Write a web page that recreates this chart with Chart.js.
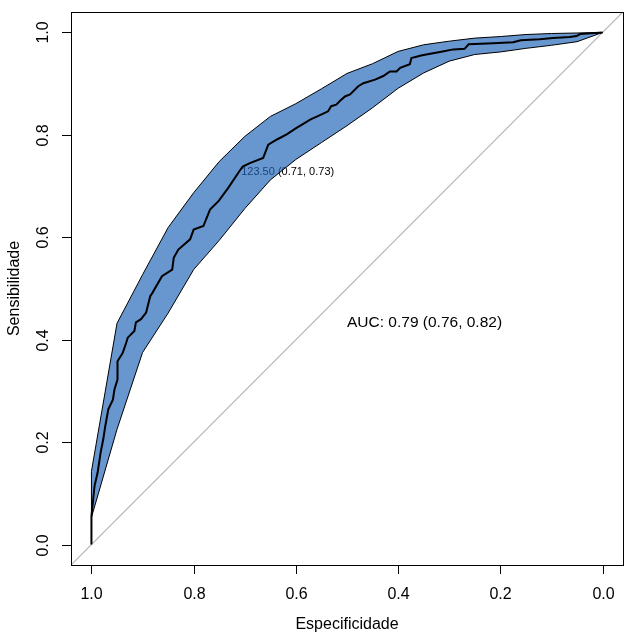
<!DOCTYPE html>
<html>
<head>
<meta charset="utf-8">
<script src="https://cdn.jsdelivr.net/npm/chart.js@4.4.1/dist/chart.umd.min.js"></script>
<style>
    html, body { margin: 0; padding: 0; background: #ffffff; }
    #wrap { width: 636px; height: 639px; position: relative; }
</style>
</head>
<body>
<div id="wrap"><canvas id="rocChart"></canvas></div>
<script>
// Tick labels
const xTicks = [1.0, 0.8, 0.6, 0.4, 0.2, 0.0];
const yTicks = [0.0, 0.2, 0.4, 0.6, 0.8, 1.0];

// Confidence band of sensitivity, by specificity
const bandSpec  = [1.00, 0.95, 0.90, 0.85, 0.80, 0.75, 0.70, 0.65, 0.60, 0.55, 0.50,
                   0.45, 0.40, 0.35, 0.30, 0.25, 0.20, 0.15, 0.10, 0.05, 0.00];
const bandUpper = [0.143, 0.432, 0.527, 0.619, 0.687, 0.748, 0.797, 0.836, 0.861, 0.890, 0.920,
                   0.939, 0.963, 0.976, 0.983, 0.989, 0.992, 0.996, 0.998, 0.999, 1.000];
const bandLower = [0.053, 0.225, 0.375, 0.452, 0.537, 0.594, 0.656, 0.712, 0.752, 0.785, 0.818,
                   0.853, 0.891, 0.921, 0.944, 0.957, 0.962, 0.969, 0.975, 0.982, 1.000];

// ROC curve
const rocSpec = [1.000, 1.000, 0.994, 0.988, 0.982, 0.977, 0.973, 0.967, 0.958, 0.955, 0.949,
                 0.949, 0.939, 0.932, 0.929, 0.916, 0.913, 0.903, 0.893, 0.885, 0.881,
                 0.862, 0.842, 0.839, 0.830, 0.807, 0.800, 0.781, 0.768, 0.751, 0.732,
                 0.710, 0.704, 0.690, 0.664, 0.654, 0.637, 0.618, 0.598, 0.588, 0.572,
                 0.556, 0.537, 0.531, 0.521, 0.514, 0.504, 0.494, 0.478, 0.468, 0.445,
                 0.429, 0.416, 0.403, 0.396, 0.377, 0.374, 0.355, 0.345, 0.318, 0.292,
                 0.270, 0.262, 0.214, 0.175, 0.160, 0.123, 0.097, 0.064, 0.051, 0.044, 0.000];
const rocSens = [0.000, 0.055, 0.114, 0.140, 0.180, 0.205, 0.231, 0.264, 0.283, 0.303, 0.322,
                 0.358, 0.374, 0.394, 0.404, 0.417, 0.434, 0.440, 0.453, 0.485, 0.491,
                 0.524, 0.537, 0.560, 0.576, 0.596, 0.615, 0.622, 0.654, 0.671, 0.697,
                 0.730, 0.738, 0.745, 0.755, 0.781, 0.791, 0.801, 0.814, 0.820, 0.830,
                 0.837, 0.846, 0.856, 0.859, 0.866, 0.875, 0.879, 0.895, 0.901, 0.908,
                 0.915, 0.924, 0.924, 0.931, 0.938, 0.950, 0.955, 0.957, 0.962, 0.967,
                 0.968, 0.977, 0.979, 0.981, 0.985, 0.987, 0.989, 0.991, 0.993, 0.997, 1.000];

// Texts
const xTitle = 'Especificidade';
const yTitle = 'Sensibilidade';
const aucText = 'AUC: 0.79 (0.76, 0.82)';
const thresText = '123.50 (0.71, 0.73)';

const FONT = '"Liberation Sans", Arial, Helvetica, sans-serif';

// Band polygon: upper edge 1 -> 0, lower edge back 0 -> 1, closed
function buildBand() {
    const pts = [];
    for (let i = 0; i < bandSpec.length; i++) {
        pts.push({ x: bandSpec[i], y: bandUpper[i] });
    }
    for (let i = bandSpec.length - 1; i >= 0; i--) {
        pts.push({ x: bandSpec[i], y: bandLower[i] });
    }
    pts.push({ x: bandSpec[0], y: bandUpper[0] });
    return pts;
}

// Threshold label goes under the band, so the band tints it
const underPlugin = {
    id: 'underText',
    beforeDatasetsDraw(chart) {
        const ctx = chart.ctx;
        const xs = chart.scales.x, ys = chart.scales.y;
        ctx.save();
        ctx.fillStyle = '#000000';
        ctx.font = '11px ' + FONT;
        ctx.textAlign = 'left';
        ctx.textBaseline = 'middle';
        ctx.fillText(thresText, xs.getPixelForValue(0.707), ys.getPixelForValue(0.728));
        ctx.restore();
    }
};

// R-style box, ticks and labels
const axesPlugin = {
    id: 'rAxes',
    afterDraw(chart) {
        const ctx = chart.ctx;
        const a = chart.chartArea;
        const xs = chart.scales.x, ys = chart.scales.y;
        ctx.save();
        ctx.strokeStyle = '#000000';
        ctx.lineWidth = 1;
        ctx.strokeRect(Math.round(a.left) + 0.5, Math.round(a.top) + 0.5,
                       Math.round(a.right - a.left), Math.round(a.bottom - a.top));

        ctx.fillStyle = '#000000';
        ctx.font = '16px ' + FONT;

        // x axis
        ctx.textAlign = 'center';
        ctx.textBaseline = 'middle';
        xTicks.forEach(v => {
            const px = Math.round(xs.getPixelForValue(v)) + 0.5;
            ctx.beginPath();
            ctx.moveTo(px, a.bottom);
            ctx.lineTo(px, a.bottom + 9);
            ctx.stroke();
            ctx.fillText(v.toFixed(1), px, a.bottom + 30);
        });
        ctx.fillText(xTitle, (a.left + a.right) / 2, a.bottom + 60);

        // y axis
        yTicks.forEach(v => {
            const py = Math.round(ys.getPixelForValue(v)) + 0.5;
            ctx.beginPath();
            ctx.moveTo(a.left, py);
            ctx.lineTo(a.left - 9, py);
            ctx.stroke();
            ctx.save();
            ctx.translate(a.left - 27, py);
            ctx.rotate(-Math.PI / 2);
            ctx.fillText(v.toFixed(1), 0, 0);
            ctx.restore();
        });
        ctx.save();
        ctx.translate(15, (a.top + a.bottom) / 2);
        ctx.rotate(-Math.PI / 2);
        ctx.fillText(yTitle, 0, 0);
        ctx.restore();

        // AUC
        ctx.font = '15.5px ' + FONT;
        ctx.textAlign = 'left';
        ctx.fillText(aucText, xs.getPixelForValue(0.5), ys.getPixelForValue(0.433));
        ctx.restore();
    }
};

const ctx = document.getElementById('rocChart').getContext('2d');
new Chart(ctx, {
    type: 'line',
    data: {
        datasets: [
            {
                label: 'ROC',
                data: rocSpec.map((s, i) => ({ x: s, y: rocSens[i] })),
                borderColor: '#000000',
                borderWidth: 2,
                pointRadius: 0,
                tension: 0,
                fill: false,
                order: 1
            },
            {
                label: 'IC',
                data: buildBand(),
                borderColor: '#000000',
                borderWidth: 1,
                backgroundColor: 'rgba(28, 97, 182, 0.667)',
                pointRadius: 0,
                tension: 0,
                fill: 'shape',
                order: 2
            },
            {
                label: 'diag',
                data: [{ x: 1.04, y: -0.04 }, { x: -0.04, y: 1.04 }],
                borderColor: '#b4b4b4',
                borderWidth: 1.2,
                pointRadius: 0,
                fill: false,
                order: 3
            }
        ]
    },
    options: {
        responsive: true,
        maintainAspectRatio: false,
        animation: false,
        layout: { padding: { top: 12, right: 13, left: 0, bottom: 0 } },
        scales: {
            x: {
                type: 'linear',
                reverse: true,
                min: -0.04,
                max: 1.04,
                grid: { display: false },
                border: { display: false },
                ticks: { display: false },
                afterFit: function(scale) { scale.height = 74; }
            },
            y: {
                type: 'linear',
                min: -0.04,
                max: 1.04,
                grid: { display: false },
                border: { display: false },
                ticks: { display: false },
                afterFit: function(scale) { scale.width = 71; }
            }
        },
        plugins: {
            legend: { display: false },
            tooltip: { enabled: false }
        }
    },
    plugins: [underPlugin, axesPlugin]
});
</script>
</body>
</html>
